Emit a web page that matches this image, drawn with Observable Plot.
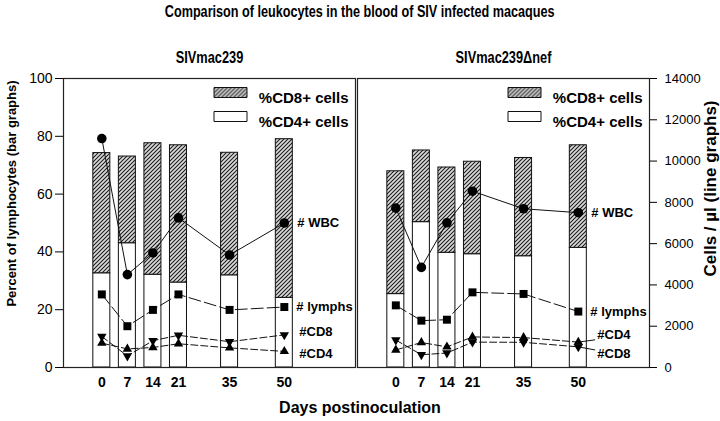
<!DOCTYPE html>
<html><head><meta charset="utf-8">
<script src="https://cdn.jsdelivr.net/npm/d3@7"></script>
<script src="https://cdn.jsdelivr.net/npm/@observablehq/plot@0.6"></script>
<style>
body{margin:0;background:#fff;width:720px;height:421px;overflow:hidden;font-family:"Liberation Sans",Arial,sans-serif;color:#000;}
#title{height:30px;line-height:24px;text-align:center;font-weight:bold;font-size:16px;}
#title span{display:inline-block;transform:scaleX(0.79);white-space:nowrap;}
#xlabel{height:26px;line-height:26px;text-align:center;font-weight:bold;font-size:16px;}
#chart svg{display:block}
</style></head><body>
<svg width="0" height="0" style="position:absolute"><defs>
<pattern id="hatch" patternUnits="userSpaceOnUse" width="4" height="4">
<rect width="4" height="4" fill="#d9d9d9"/>
<path d="M-1,1 l2,-2 M0,4 l4,-4 M3,5 l2,-2" stroke="#1a1a1a" stroke-width="1.05"/>
</pattern></defs></svg>
<div id="title"><span>Comparison of leukocytes in the blood of SIV infected macaques</span></div>
<div id="chart"></div>
<div id="xlabel">Days postinoculation</div>
<script>
// ---- data ----
const panels = ["SIVmac239", "SIVmac239\u0394nef"];
const days = [0, 7, 14, 21, 35, 50];
const yTicksLeft = [0, 20, 40, 60, 80, 100];
const yTicksRight = [0, 2000, 4000, 6000, 8000, 10000, 12000, 14000];
const legendItems = ["%CD8+ cells", "%CD4+ cells"];

// bar graphs: percent of lymphocytes
const cd4Pct239 = [32.6, 43.0, 32.1, 29.4, 31.9, 24.1];
const cd8Pct239 = [41.6, 30.0, 45.5, 47.5, 42.4, 54.9];
const cd4PctNef = [25.4, 50.3, 39.7, 39.2, 38.5, 41.4];
const cd8PctNef = [42.5, 24.8, 29.5, 32.0, 34.0, 35.5];

// line graphs: cells / µl
const wbc239 = [11090, 4500, 5550, 7250, 5450, 7000];
const lymphs239 = [3540, 2000, 2790, 3540, 2790, 2930];
const cd8Cnt239 = [1500, 560, 1300, 1560, 1250, 1580];
const cd4Cnt239 = [1180, 900, 970, 1150, 950, 780];
const wbcNef = [7720, 4850, 7010, 8540, 7690, 7500];
const lymphsNef = [3010, 2270, 2315, 3640, 3563, 2710];
const cd4CntNef = [850, 1210, 1000, 1480, 1450, 1230];
const cd8CntNef = [1330, 620, 700, 1230, 1220, 1000];

const cd4Pct = [cd4Pct239, cd4PctNef], cd8Pct = [cd8Pct239, cd8PctNef];
const wbc = [wbc239, wbcNef], lymphs = [lymphs239, lymphsNef];
const cd4Cnt = [cd4Cnt239, cd4CntNef], cd8Cnt = [cd8Cnt239, cd8CntNef];

const rows = [];
panels.forEach((p, pi) => days.forEach((d, i) => rows.push({
  panel: p, day: d, cd4: cd4Pct[pi][i], cd8: cd8Pct[pi][i],
  wbc: wbc[pi][i], lymphs: lymphs[pi][i], cd4n: cd4Cnt[pi][i], cd8n: cd8Cnt[pi][i]
})));

// ---- drawing ----
const K = 100 / 14000; // cells/µl -> shared vertical scale
const hw = 2.33;       // half bar width in days
const lastDay = days[days.length - 1];
const last = p => rows.filter(d => d.panel === p && d.day === lastDay);

const triDown = {draw(ctx, size) {
  const y = Math.sqrt(size / (Math.sqrt(3) * 3));
  ctx.moveTo(0, 2 * y); ctx.lineTo(-Math.sqrt(3) * y, -y); ctx.lineTo(Math.sqrt(3) * y, -y); ctx.closePath();
}};
const swatch = {draw(ctx) { ctx.rect(-16.5, -5, 33, 10); }};

const bold = {fontWeight: "bold", fill: "#000"};
const F = "Liberation Sans, Arial, sans-serif";

const plot = Plot.plot({
  width: 720, height: 365,
  marginTop: 48, marginBottom: 28, marginLeft: 62, marginRight: 71,
  style: {fontFamily: F, color: "#000", background: "#fff", overflow: "visible"},
  fx: {domain: panels, paddingInner: 0.008, paddingOuter: 0, label: null, axis: null},
  x: {domain: [-10.5, 69.5], axis: null},
  y: {domain: [0, 100], axis: null},
  marks: [
    Plot.rect(rows, {fx: "panel", x1: d => d.day - hw, x2: d => d.day + hw, y1: () => 0, y2: "cd4", fill: "#fff", stroke: "#111", strokeWidth: 1}),
    Plot.rect(rows, {fx: "panel", x1: d => d.day - hw, x2: d => d.day + hw, y1: "cd4", y2: d => d.cd4 + d.cd8, fill: "url(#hatch)", stroke: "#111", strokeWidth: 1}),
    Plot.frame({stroke: "#222", strokeWidth: 1.2}),

    Plot.line(rows, {fx: "panel", x: "day", y: d => d.wbc * K, stroke: "#111", strokeWidth: 1}),
    Plot.line(rows, {fx: "panel", x: "day", y: d => d.lymphs * K, stroke: "#111", strokeWidth: 1, strokeDasharray: "12,4"}),
    Plot.line(rows, {fx: "panel", x: "day", y: d => d.cd8n * K, stroke: "#111", strokeWidth: 1, strokeDasharray: "7,3"}),
    Plot.line(rows, {fx: "panel", x: "day", y: d => d.cd4n * K, stroke: "#111", strokeWidth: 1, strokeDasharray: "7,3"}),
    // leader lines in right panel
    Plot.link(last(panels[1]), {fx: "panel", x1: "day", y1: d => d.cd4n * K, x2: d => d.day + 4.6, y2: d => (d.cd4n + 110) * K, stroke: "#111", strokeWidth: 1}),
    Plot.link(last(panels[1]), {fx: "panel", x1: "day", y1: d => d.cd8n * K, x2: d => d.day + 4.6, y2: d => (d.cd8n - 150) * K, stroke: "#111", strokeWidth: 1}),

    Plot.dot(rows, {fx: "panel", x: "day", y: d => d.wbc * K, r: 4.8, fill: "#000", symbol: "circle"}),
    Plot.dot(rows, {fx: "panel", x: "day", y: d => d.lymphs * K, r: 4.5, fill: "#000", symbol: "square"}),
    Plot.dot(rows, {fx: "panel", x: "day", y: d => d.cd8n * K, r: 3.5, fill: "#000", symbol: triDown}),
    Plot.dot(rows, {fx: "panel", x: "day", y: d => d.cd4n * K, r: 3.5, fill: "#000", symbol: "triangle"}),

    // series labels
    Plot.text(rows.filter(d => d.day === lastDay), {fx: "panel", x: "day", y: d => d.wbc * K, text: () => "# WBC", textAnchor: "start", dx: 13, fontSize: 13, ...bold}),
    Plot.text(rows.filter(d => d.day === lastDay), {fx: "panel", x: "day", y: d => d.lymphs * K, text: () => "# lymphs", textAnchor: "start", dx: 12, fontSize: 13, ...bold}),
    Plot.text(last(panels[0]), {fx: "panel", x: "day", y: d => d.cd8n * K, text: () => "#CD8", textAnchor: "start", dx: 15, dy: -3, fontSize: 13, ...bold}),
    Plot.text(last(panels[0]), {fx: "panel", x: "day", y: d => d.cd4n * K, text: () => "#CD4", textAnchor: "start", dx: 15, dy: 2, fontSize: 13, ...bold}),
    Plot.text(last(panels[1]), {fx: "panel", x: "day", y: d => d.cd4n * K, text: () => "#CD4", textAnchor: "start", dx: 19, dy: -7, fontSize: 13, ...bold}),
    Plot.text(last(panels[1]), {fx: "panel", x: "day", y: d => d.cd8n * K, text: () => "#CD8", textAnchor: "start", dx: 19, dy: 7, fontSize: 13, ...bold}),

    // legends (repeated in each panel)
    Plot.dot(legendItems.slice(0, 1), {frameAnchor: "top-right", dx: -125, dy: 14, symbol: swatch, r: 5, fill: "url(#hatch)", stroke: "#111", strokeWidth: 1}),
    Plot.dot(legendItems.slice(1, 2), {frameAnchor: "top-right", dx: -125, dy: 38, symbol: swatch, r: 5, fill: "#fff", stroke: "#111", strokeWidth: 1}),
    Plot.text(legendItems.slice(0, 1), {frameAnchor: "top-right", text: d => d, textAnchor: "end", dx: -7, dy: 14, fontSize: 15, ...bold}),
    Plot.text(legendItems.slice(1, 2), {frameAnchor: "top-right", text: d => d, textAnchor: "end", dx: -7, dy: 38, fontSize: 15, ...bold}),

    // axes
    Plot.axisY({anchor: "left", ticks: yTicksLeft, tickSize: 8, tickPadding: 3, fontSize: 14, label: null}),
    Plot.axisY({anchor: "right", ticks: yTicksRight.map(v => v * K), tickFormat: d => String(Math.round(d / K)), tickSize: 7, tickPadding: 8, fontSize: 13, label: null}),
    Plot.axisX({ticks: days, tickSize: 0, tickPadding: 10, fontSize: 14, fontWeight: "bold", label: null}),
    Plot.axisFx({anchor: "top", tickSize: 0, tickPadding: 16, fontSize: 16, fontWeight: "bold", label: null}),

    // axis titles
    Plot.text([panels[0]], {fx: d => d, frameAnchor: "left", text: () => "Percent of lymphocytes (bar graphs)", rotate: -90, textAnchor: "middle", dx: -52, dy: -29.5, fontSize: 13, ...bold}),
    Plot.text([panels[1]], {fx: d => d, frameAnchor: "right", text: () => "Cells / \u00b5l (line graphs)", rotate: -90, textAnchor: "middle", dx: 61, dy: -34.5, fontSize: 17, ...bold})
  ]
});
// condense the panel titles horizontally (narrow bold face in the reference)
d3.select(plot).selectAll('g[aria-label="fx-axis tick label"] text').each(function() {
  const t = this.getAttribute("transform") || "";
  this.setAttribute("transform", t + " scale(0.8,1)");
});
document.getElementById("chart").appendChild(plot);
</script>
</body></html>
